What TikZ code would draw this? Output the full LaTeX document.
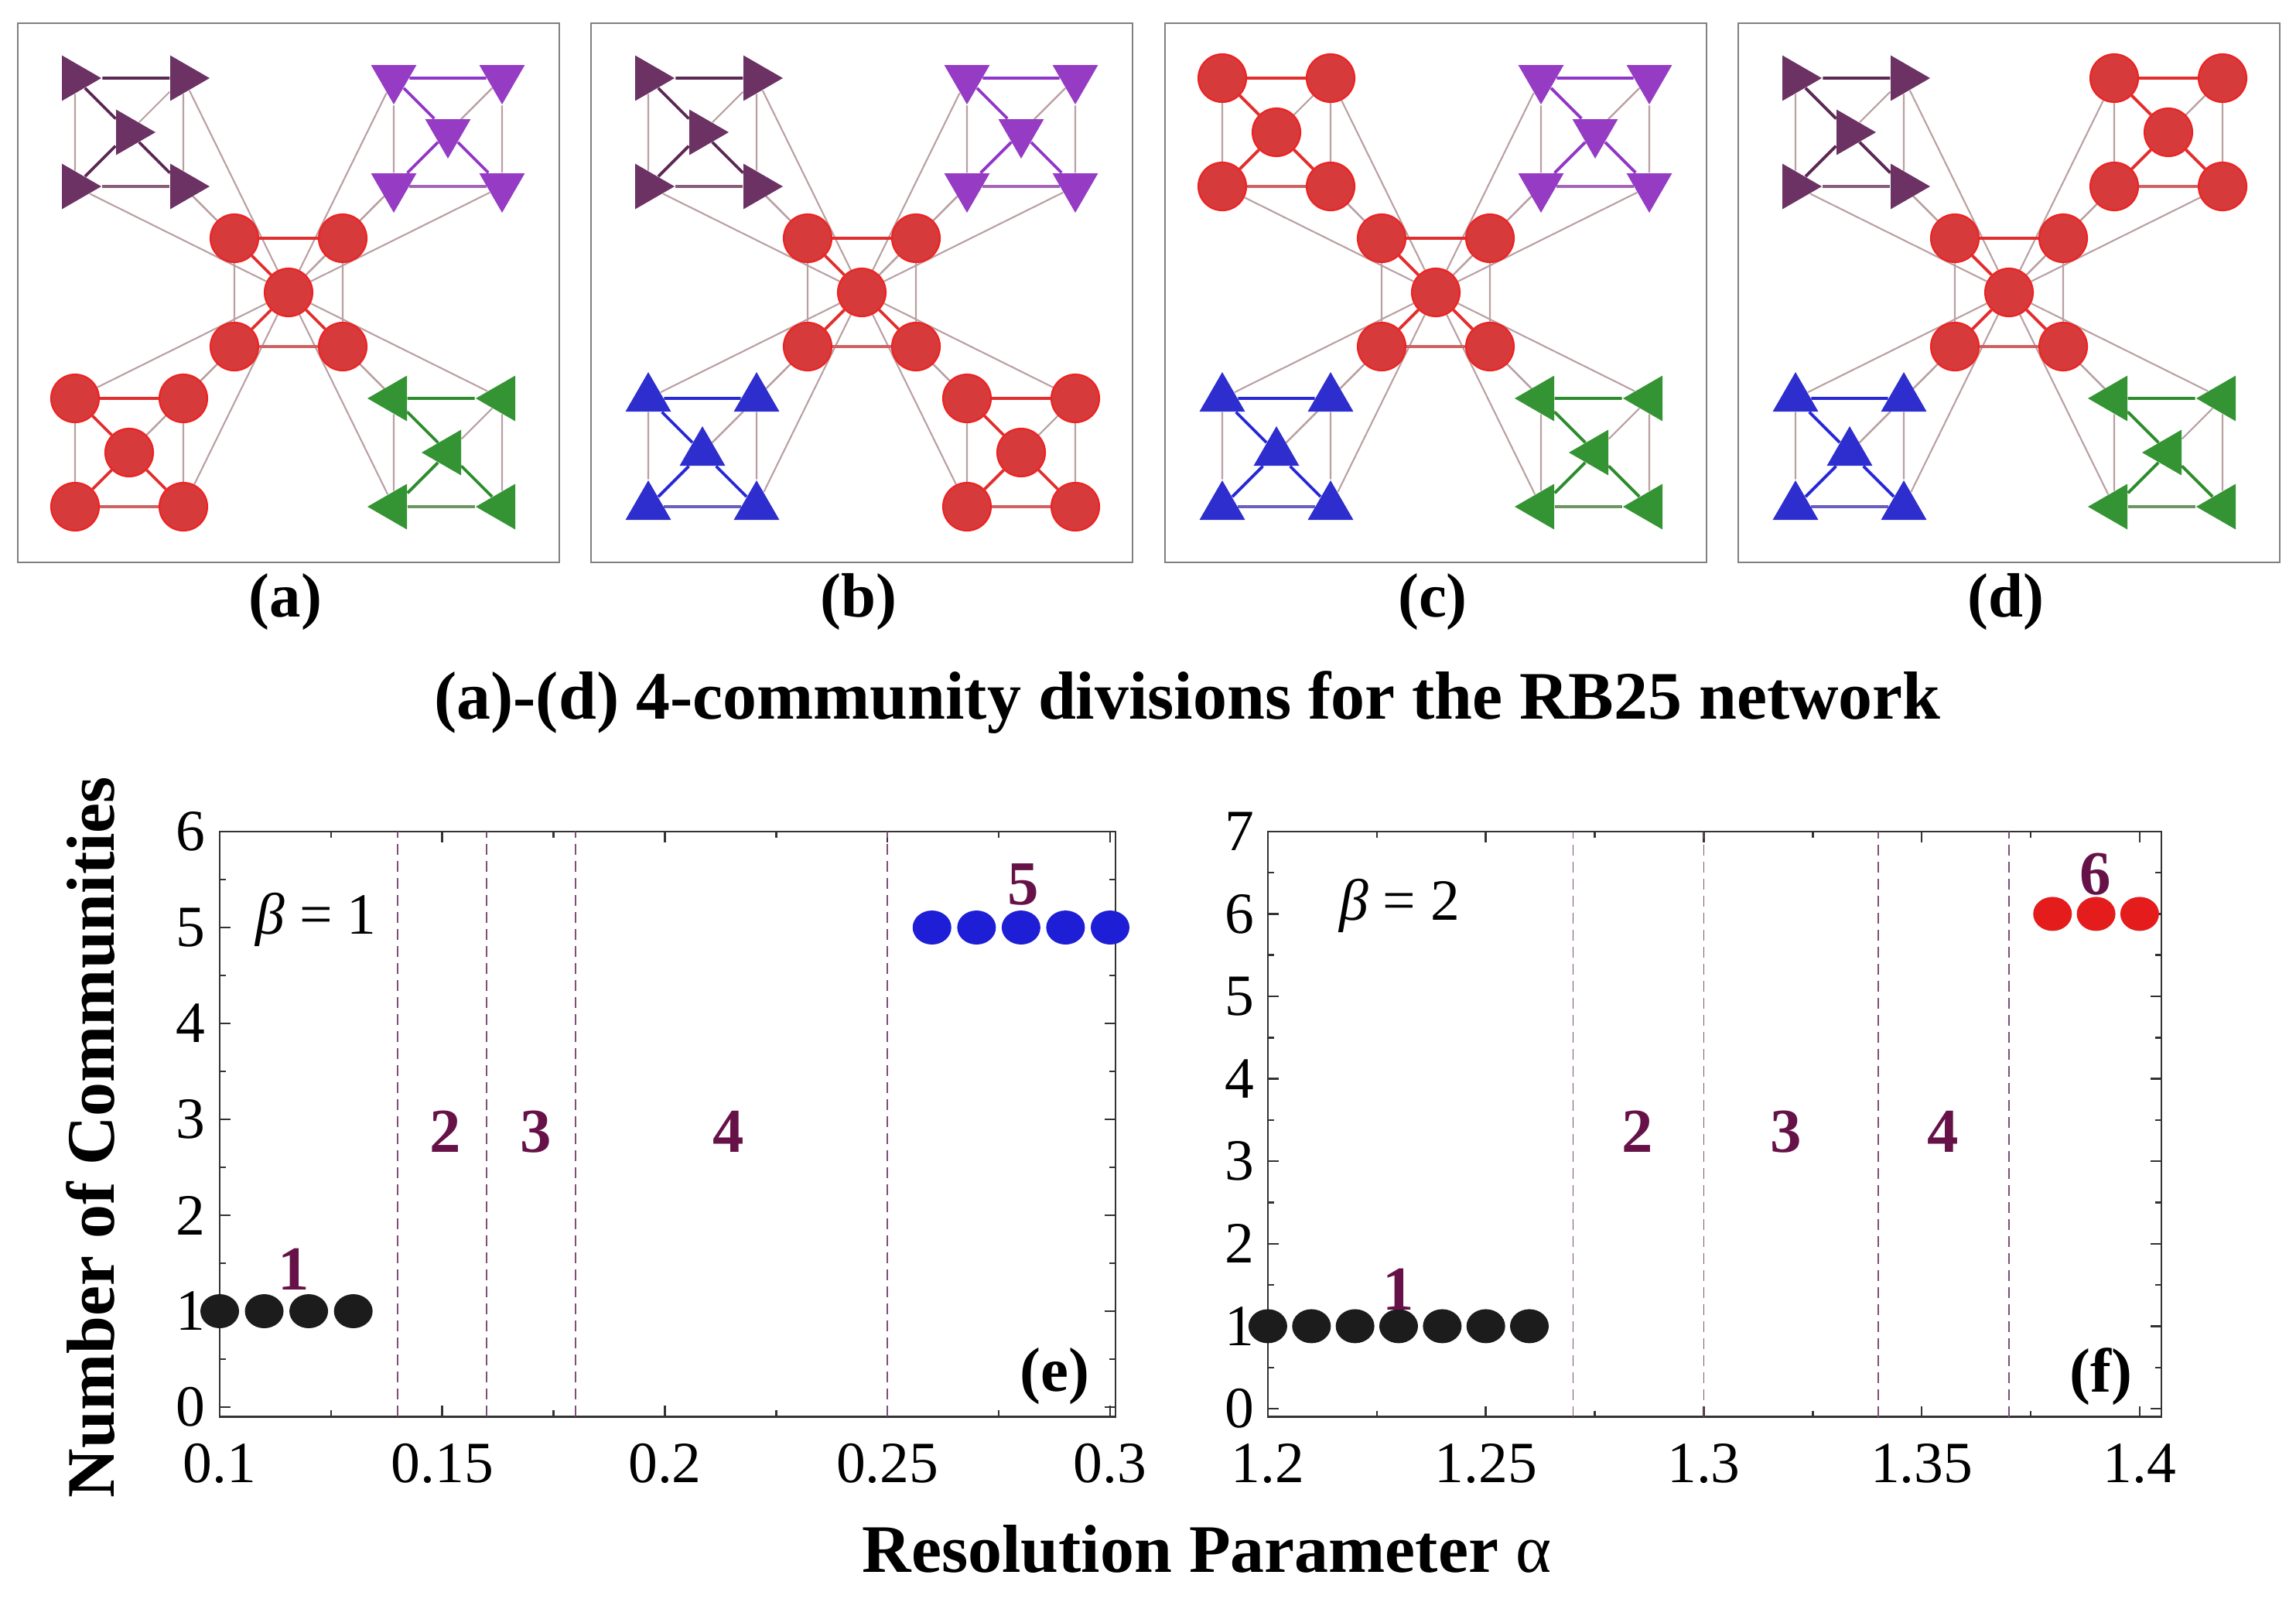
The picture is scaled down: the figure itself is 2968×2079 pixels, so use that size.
\documentclass[tikz,border=0pt]{standalone}
\usepackage{fontspec}
\setmainfont{Liberation Serif}
\usepackage{tikz}
\usetikzlibrary{shapes.geometric,positioning,calc,backgrounds}

% community colours
\definecolor{cplum}{RGB}{108,50,100}
\definecolor{cviolet}{RGB}{150,60,196}
\definecolor{cred}{RGB}{214,58,58}
\definecolor{ringred}{RGB}{238,34,34}
\definecolor{cgreen}{RGB}{52,148,52}
\definecolor{cblue}{RGB}{46,46,206}
% edge colours
\definecolor{eplum}{RGB}{92,40,84}
\definecolor{eviolet}{RGB}{145,55,200}
\definecolor{ered}{RGB}{226,46,46}
\definecolor{egreen}{RGB}{45,140,45}
\definecolor{eblue}{RGB}{40,40,215}
\definecolor{linkgrey}{RGB}{186,160,162}
\definecolor{panelgrey}{RGB}{128,128,128}
% plot colours
\definecolor{numplum}{RGB}{102,18,72}
\definecolor{dashplum}{RGB}{128,78,118}
\definecolor{dotblack}{RGB}{28,28,28}
\definecolor{dotblue}{RGB}{30,30,214}
\definecolor{dotred}{RGB}{228,28,28}

\newcommand{\tickfont}{\fontsize{21.5pt}{25pt}\selectfont}
\newcommand{\capfont}{\fontsize{25pt}{29pt}\selectfont\bfseries}
\newcommand{\subfont}{\fontsize{23pt}{27pt}\selectfont\bfseries}
\newcommand{\numfont}{\fontsize{23pt}{27pt}\selectfont\bfseries}

\tikzset{
  ball/.style={circle, draw=ringred, fill=cred, line width=0.6pt, minimum size=6.2mm, inner sep=0pt},
  tri/.style={regular polygon, regular polygon sides=3, inner sep=0pt, minimum size=6.8mm},
  grp red/.style={ball},
  grp plum/.style={tri, fill=cplum, shape border rotate=270},
  grp violet/.style={tri, fill=cviolet, shape border rotate=180},
  grp green/.style={tri, fill=cgreen, shape border rotate=90},
  grp blue/.style={tri, fill=cblue},
  link/.style={draw=linkgrey, line width=0.6pt},
  tie red/.style={draw=ered, line width=1.1pt},
  tie plum/.style={draw=eplum, line width=1.1pt},
  tie violet/.style={draw=eviolet, line width=1.1pt},
  tie green/.style={draw=egreen, line width=1.1pt},
  tie blue/.style={draw=eblue, line width=1.1pt},
  soft red/.style={draw=ered!55!linkgrey, line width=1.4pt},
  soft plum/.style={draw=eplum!55!linkgrey, line width=1.4pt},
  soft violet/.style={draw=eviolet!55!linkgrey, line width=1.4pt},
  soft green/.style={draw=egreen!55!linkgrey, line width=1.4pt},
  soft blue/.style={draw=eblue!55!linkgrey, line width=1.4pt},
  panel/.style={draw=panelgrey, line width=0.8pt},
  frame/.style={draw=black!80, line width=0.7pt},
  split/.style={draw=dashplum, line width=0.5pt, dash pattern=on 1.4mm off 0.8mm},
  dot/.style={ellipse, minimum width=5mm, minimum height=4.4mm, inner sep=0pt},
  cnum/.style={text=numplum, font=\numfont, inner sep=0pt},
  ticklab/.style={font=\tickfont, inner sep=0pt},
}

% one five-node module of RB25: hub plus four corners
\newcommand{\rbmodule}[4]{% #1 name, #2 x, #3 y, #4 group
  \node[grp #4] (#1c) at (#2,#3) {};
  \node[grp #4] (#1tl) at (#2-70,#3-70) {};
  \node[grp #4] (#1tr) at (#2+70,#3-70) {};
  \node[grp #4] (#1bl) at (#2-70,#3+70) {};
  \node[grp #4] (#1br) at (#2+70,#3+70) {};
}
\newcommand{\rbedges}[2]{% #1 name, #2 group
  \draw[tie #2] (#1tl) -- (#1tr) (#1c) -- (#1tl) (#1c) -- (#1bl) (#1c) -- (#1br);
  \draw[soft #2] (#1bl) -- (#1br);
  \draw[link] (#1tl) -- (#1bl) (#1tr) -- (#1br) (#1c) -- (#1tr);
}

\begin{document}
\begin{tikzpicture}[x=0.1mm,y=-0.1mm]
\useasboundingbox (0,0) rectangle (2968,2079);

% (a)-(d) the four divisions
\foreach \p/\px/\nw/\ne/\sw/\se in {a/23/plum/violet/red/green,
                                     b/764/plum/violet/blue/red,
                                     c/1506/red/violet/blue/green,
                                     d/2247/plum/red/blue/green}{
  \draw[panel] (\px,30) rectangle ++(700,697);
  \rbmodule{\p-mid-}{\px+350}{378}{red}
  \rbmodule{\p-nw-}{\px+144}{171}{\nw}
  \rbmodule{\p-ne-}{\px+556}{171}{\ne}
  \rbmodule{\p-sw-}{\px+144}{585}{\sw}
  \rbmodule{\p-se-}{\px+556}{585}{\se}
  \begin{scope}[on background layer]
    % every outer corner hangs on the hub
    \foreach \m in {nw,ne,sw,se}
      \foreach \k in {tl,tr,bl,br}
        \draw[link] (\p-mid-c) -- (\p-\m-\k);
    \rbedges{\p-mid-}{red}
    \rbedges{\p-nw-}{\nw}
    \rbedges{\p-ne-}{\ne}
    \rbedges{\p-sw-}{\sw}
    \rbedges{\p-se-}{\se}
  \end{scope}
  \node[font=\subfont, inner sep=0pt] (\p-lab) at (\px+346,778) {(\p)};
}

\node[font=\capfont, inner sep=0pt] (cap) at (1535,908)
  {(a)-(d) 4-community divisions for the RB25 network};

% axis titles
\node[font=\capfont, rotate=90, inner sep=0pt] (ylab) at (117,1470) {Number of Communities};
\node[font=\capfont, inner sep=0pt] (xlab) at (1560,2003) {Resolution Parameter {\mdseries α}};

% (e) beta = 1
\begin{scope}[shift={(-291.5,1819)}, x=575.5mm, y=12.4mm]
  \draw[frame] (0.1,-0.1) rectangle (0.3012,6);
  \foreach \t [count=\i] in {0.1,0.15,0.2,0.25,0.3}{
    \draw[frame] (\t,-0.1) -- ++(0pt,1.4mm) (\t,6) -- ++(0pt,-1.4mm);
    \node[ticklab, anchor=north, yshift=-3.4mm] (e-x\i) at (\t,-0.1) {\t};
  }
  \foreach \t in {0.125,0.175,0.225,0.275}
    \draw[frame] (\t,-0.1) -- ++(0pt,0.8mm) (\t,6) -- ++(0pt,-0.8mm);
  \foreach \t in {0,...,6}{
    \draw[frame] (0.1,\t) -- ++(1.4mm,0pt) (0.3012,\t) -- ++(-1.4mm,0pt);
    \node[ticklab, anchor=east, xshift=-1.8mm] (e-y\t) at (0.1,\t) {\t};
  }
  \foreach \t in {0.5,1.5,...,5.5}
    \draw[frame] (0.1,\t) -- ++(0.8mm,0pt) (0.3012,\t) -- ++(-0.8mm,0pt);
  \foreach \t in {0.14,0.16,0.18,0.25}
    \draw[split] (\t,-0.1) -- (\t,6);
  \foreach \x [count=\i] in {0.10,0.11,0.12,0.13}
    \node[dot, fill=dotblack] (e-k\i) at (\x,1) {};
  \foreach \x [count=\i] in {0.26,0.27,0.28,0.29,0.30}
    \node[dot, fill=dotblue] (e-b\i) at (\x,5) {};
  \node[cnum] (e-n1) at (0.1167,1.44) {1};
  \node[cnum] (e-n2) at (0.1506,2.87) {2};
  \node[cnum] (e-n3) at (0.1711,2.87) {3};
  \node[cnum] (e-n4) at (0.2142,2.87) {4};
  \node[cnum] (e-n5) at (0.2805,5.45) {5};
  \node[ticklab] (e-beta) at (0.1217,5.08) {\textit{β} = 1};
  \node[font=\numfont, inner sep=0pt] (e-tag) at (0.2875,0.32) {(e)};
\end{scope}

% (f) beta = 2
\begin{scope}[shift={(-5123,1821)}, x=563.5mm, y=10.66mm]
  \draw[frame] (1.2,-0.1) rectangle (1.405,7);
  \foreach \t [count=\i] in {1.2,1.25,1.3,1.35,1.4}{
    \draw[frame] (\t,-0.1) -- ++(0pt,1.4mm) (\t,7) -- ++(0pt,-1.4mm);
    \node[ticklab, anchor=north, yshift=-3.4mm] (f-x\i) at (\t,-0.1) {\t};
  }
  \foreach \t in {1.225,1.275,1.325,1.375}
    \draw[frame] (\t,-0.1) -- ++(0pt,0.8mm) (\t,7) -- ++(0pt,-0.8mm);
  \foreach \t in {0,...,7}{
    \draw[frame] (1.2,\t) -- ++(1.4mm,0pt) (1.405,\t) -- ++(-1.4mm,0pt);
    \node[ticklab, anchor=east, xshift=-1.7mm] (f-y\t) at (1.2,\t) {\t};
  }
  \foreach \t in {0.5,1.5,...,6.5}
    \draw[frame] (1.2,\t) -- ++(0.8mm,0pt) (1.405,\t) -- ++(-0.8mm,0pt);
  \foreach \t in {1.27,1.3,1.34,1.37}
    \draw[split] (\t,-0.1) -- (\t,7);
  \foreach \x [count=\i] in {1.20,1.21,1.22,1.23,1.24,1.25,1.26}
    \node[dot, fill=dotblack] (f-k\i) at (\x,1) {};
  \foreach \x [count=\i] in {1.38,1.39,1.40}
    \node[dot, fill=dotred] (f-r\i) at (\x,6) {};
  \node[cnum] (f-n1) at (1.23,1.45) {1};
  \node[cnum] (f-n2) at (1.2847,3.36) {2};
  \node[cnum] (f-n3) at (1.3189,3.36) {3};
  \node[cnum] (f-n4) at (1.3549,3.36) {4};
  \node[cnum] (f-n6) at (1.3899,6.48) {6};
  \node[ticklab] (f-beta) at (1.2302,6.1) {\textit{β} = 2};
  \node[font=\numfont, inner sep=0pt] (f-tag) at (1.3911,0.39) {(f)};
\end{scope}
\end{tikzpicture}
\end{document}
